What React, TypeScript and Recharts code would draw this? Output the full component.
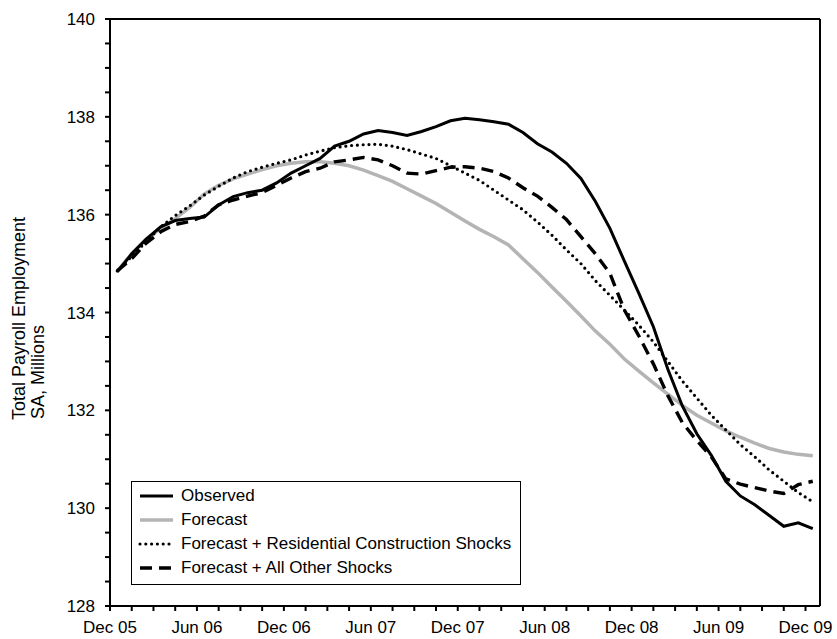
import React from 'react'
import {
  LineChart, Line, XAxis, YAxis, Legend, ReferenceLine,
} from 'recharts'

// ─── data (monthly, Dec 05 .. Dec 09) ─────────────────────────────
const months = [
  'Dec 05', 'Jan 06', 'Feb 06', 'Mar 06', 'Apr 06', 'May 06', 'Jun 06', 'Jul 06', 'Aug 06', 'Sep 06', 'Oct 06', 'Nov 06',
  'Dec 06', 'Jan 07', 'Feb 07', 'Mar 07', 'Apr 07', 'May 07', 'Jun 07', 'Jul 07', 'Aug 07', 'Sep 07', 'Oct 07', 'Nov 07',
  'Dec 07', 'Jan 08', 'Feb 08', 'Mar 08', 'Apr 08', 'May 08', 'Jun 08', 'Jul 08', 'Aug 08', 'Sep 08', 'Oct 08', 'Nov 08',
  'Dec 08', 'Jan 09', 'Feb 09', 'Mar 09', 'Apr 09', 'May 09', 'Jun 09', 'Jul 09', 'Aug 09', 'Sep 09', 'Oct 09', 'Nov 09',
  'Dec 09',
]

const observed = [
  134.83, 135.2, 135.5, 135.75, 135.88, 135.92, 135.95, 136.2, 136.37, 136.45, 136.5, 136.65,
  136.85, 137.0, 137.15, 137.4, 137.5, 137.65, 137.72, 137.68, 137.62, 137.7, 137.8, 137.92,
  137.97, 137.94, 137.9, 137.85, 137.68, 137.45, 137.28, 137.05, 136.74, 136.27, 135.72, 135.05,
  134.39, 133.71, 132.84, 132.09, 131.52, 131.08, 130.55, 130.25, 130.07, 129.85, 129.63, 129.7,
  129.58,
]

const forecast = [
  134.85, 135.2, 135.5, 135.72, 135.92, 136.15, 136.42, 136.6, 136.73, 136.83, 136.92, 137.0,
  137.05, 137.08, 137.08, 137.05, 137.0, 136.91, 136.8, 136.68, 136.53, 136.38, 136.23, 136.05,
  135.87, 135.7, 135.55, 135.38, 135.1, 134.82, 134.52, 134.23, 133.93, 133.62, 133.35, 133.05,
  132.8, 132.56, 132.33, 132.1, 131.9, 131.74, 131.58, 131.45, 131.33, 131.22, 131.15, 131.1,
  131.07,
]

const residential = [
  134.85, 135.15, 135.45, 135.75, 135.98, 136.18, 136.4, 136.58, 136.75, 136.88, 136.97, 137.05,
  137.12, 137.22, 137.3, 137.37, 137.41, 137.43, 137.44, 137.4, 137.33, 137.24, 137.15, 137.0,
  136.85, 136.7, 136.5, 136.3, 136.1, 135.85, 135.58, 135.28, 135.0, 134.65, 134.35, 134.05,
  133.74, 133.4, 133.0, 132.6, 132.25, 131.9, 131.6, 131.3, 131.05, 130.78, 130.55, 130.32,
  130.13,
]

const otherShocks = [
  134.85, 135.1, 135.42, 135.65, 135.8, 135.86, 135.97, 136.2, 136.3, 136.38, 136.45, 136.6,
  136.75, 136.88, 136.95, 137.08, 137.12, 137.17, 137.12, 137.0, 136.85, 136.83, 136.9, 136.97,
  136.98, 136.95, 136.88, 136.75, 136.55, 136.38, 136.15, 135.9, 135.55, 135.2, 134.8, 134.05,
  133.52, 132.95, 132.3, 131.75, 131.38, 131.05, 130.6, 130.49, 130.42, 130.35, 130.3, 130.48,
  130.55,
]

const xTickLabels = ['Dec 05', 'Jun 06', 'Dec 06', 'Jun 07', 'Dec 07', 'Jun 08', 'Dec 08', 'Jun 09', 'Dec 09']
const seriesNames = [
  'Observed',
  'Forecast',
  'Forecast + Residential Construction Shocks',
  'Forecast + All Other Shocks',
]

// 카테고리 중앙에 점을 찍는다 (Excel 스타일 축)
const chartData = months.map((m, i) => ({
  x: i + 0.5,
  month: m,
  observed: observed[i],
  forecast: forecast[i],
  residential: residential[i],
  other: otherShocks[i],
}))

const xTicks = Array.from({ length: 33 }, (_, k) => k * 1.5)
const yTicks = Array.from({ length: 25 }, (_, k) => 128 + k * 0.5)

const FONT = 'Liberation Sans, Arial, Helvetica, sans-serif'
const GRAY = '#b4b4b4'

const styles = [
  { stroke: '#000', width: 3, dash: undefined as string | undefined, cap: 'butt' },
  { stroke: GRAY, width: 3.5, dash: undefined, cap: 'butt' },
  { stroke: '#000', width: 3.2, dash: '0 5.8', cap: 'round' },
  { stroke: '#000', width: 3.4, dash: '12 7', cap: 'butt' },
]

// ─── legend box ──────────────────────────────────────────────────
const LegendBox = () => (
  <div style={{
    border: '1.5px solid #000', background: '#fff', boxSizing: 'border-box',
    width: 390, height: 104, padding: '2px 0 0 6px', fontFamily: FONT, fontSize: 17,
  }}>
    {seriesNames.map((name, i) => (
      <div key={name} style={{ display: 'flex', alignItems: 'center', height: 24 }}>
        <svg width={36} height={10} style={{ marginRight: 7 }}>
          <line x1={2} y1={5} x2={35} y2={5}
            stroke={styles[i].stroke} strokeWidth={styles[i].width}
            strokeDasharray={styles[i].dash} strokeLinecap={styles[i].cap as any} />
        </svg>
        <span style={{ lineHeight: '24px' }}>{name}</span>
      </div>
    ))}
  </div>
)

// ─── y axis title (two lines, start aligned like the original) ───
const YTitle = () => (
  <g fontFamily={FONT} fontSize={18} fill="#000">
    <text x={0} y={0} transform="translate(25,420) rotate(-90)" textAnchor="start">Total Payroll Employment</text>
    <text x={0} y={0} transform="translate(44,419) rotate(-90)" textAnchor="start">SA, Millions</text>
  </g>
)

export default function App() {
  return (
    <div style={{ position: 'absolute', left: 0, top: 0, width: 837, height: 639, background: '#fff' }}>
      <LineChart width={837} height={639} data={chartData}
        margin={{ top: 19, right: 17, bottom: 0, left: 0 }}>
        <XAxis
          type="number" dataKey="x" domain={[0, 49]} ticks={xTicks} interval={0}
          tickFormatter={(v: number) => (v % 6 === 0 ? xTickLabels[v / 6] : '')}
          height={33} tickSize={5} tickMargin={10}
          axisLine={{ stroke: '#000', strokeWidth: 2 }}
          tickLine={{ stroke: '#000', strokeWidth: 2 }}
          tick={{ fontSize: 17, fill: '#000', fontFamily: FONT }}
        />
        <YAxis
          type="number" domain={[128, 140]} ticks={yTicks} interval={0}
          tickFormatter={(v: number) => (v % 2 === 0 ? String(v) : '')}
          width={110} tickSize={5} tickMargin={10}
          axisLine={{ stroke: '#000', strokeWidth: 2 }}
          tickLine={{ stroke: '#000', strokeWidth: 2 }}
          tick={{ fontSize: 17, fill: '#000', fontFamily: FONT }}
          label={{ content: () => <YTitle /> }}
        />
        {/* 플롯 테두리 (위/오른쪽) */}
        <ReferenceLine y={140} stroke="#000" strokeWidth={2} />
        <ReferenceLine x={49} stroke="#000" strokeWidth={2} />

        <Line type="linear" dataKey="forecast" name={seriesNames[1]} stroke={GRAY} strokeWidth={3.5}
          dot={false} isAnimationActive={false} />
        <Line type="linear" dataKey="residential" name={seriesNames[2]} stroke="#000" strokeWidth={3.2}
          strokeDasharray="0 5.8" strokeLinecap="round" dot={false} isAnimationActive={false} />
        <Line type="linear" dataKey="other" name={seriesNames[3]} stroke="#000" strokeWidth={3.4}
          strokeDasharray="12 7" dot={false} isAnimationActive={false} />
        <Line type="linear" dataKey="observed" name={seriesNames[0]} stroke="#000" strokeWidth={3}
          dot={false} isAnimationActive={false} />

        <Legend
          layout="horizontal" verticalAlign="middle" align="center"
          wrapperStyle={{ position: 'absolute', left: 131, top: 481, width: 390, height: 104 }}
          content={() => <LegendBox />}
        />
      </LineChart>
    </div>
  )
}
